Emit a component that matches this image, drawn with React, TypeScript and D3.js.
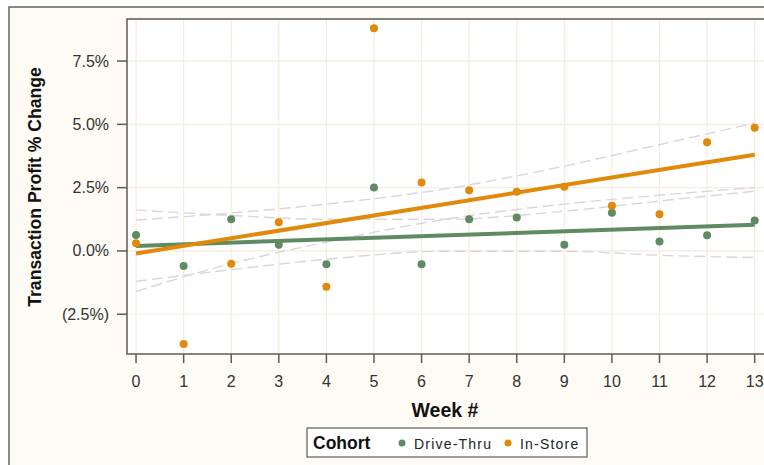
import React, { useEffect, useRef } from 'react';
import * as d3 from 'd3';

const weeks = [0, 1, 2, 3, 4, 5, 6, 7, 8, 9, 10, 11, 12, 13];
const driveThru = [0.63, -0.59, 1.25, 0.24, -0.53, 2.51, -0.53, 1.25, 1.32, 0.24, 1.51, 0.37, 0.62, 1.2];
const inStore = [0.3, -3.68, -0.51, 1.13, -1.41, 8.79, 2.7, 2.4, 2.34, 2.54, 1.78, 1.45, 4.29, 4.87];

const fitWeeks = [0, 13];
const driveThruFit = [0.2, 1.03];
const inStoreFit = [-0.1, 3.8];

const bandWeeks = [0, 2, 4, 6.5, 9, 11, 13];
const driveThruUpper = [1.62, 1.4, 1.25, 1.25, 1.57, 1.97, 2.36];
const driveThruLower = [-1.2, -0.74, -0.33, -0.01, -0.01, -0.17, -0.26];
const inStoreUpper = [1.22, 1.5, 1.85, 2.45, 3.35, 4.2, 5.05];
const inStoreLower = [-1.6, -0.5, 0.35, 1.25, 1.85, 2.2, 2.5];

const yTicks = [-2.5, 0, 2.5, 5, 7.5];
const cohorts = ['Drive-Thru', 'In-Store'];
const colors = ['#5f8b63', '#e0890a'];

const fmt = (v: number) => (v < 0 ? `(${Math.abs(v).toFixed(1)}%)` : `${v.toFixed(1)}%`);

function App() {
  const ref = useRef<SVGSVGElement>(null);

  useEffect(() => {
    const svg = d3.select(ref.current);
    svg.selectAll('*').remove();

    const left = 127, right = 768, top = 19, bottom = 354;
    const x = d3.scaleLinear().domain([-0.19, 13.28]).range([left, right]);
    const y = d3.scaleLinear().domain([-4.07, 9.16]).range([bottom, top]);
    const font = 'Liberation Sans, Arial, sans-serif';

    // background
    svg.append('rect').attr('x', 0).attr('y', 0).attr('width', 764).attr('height', 465).attr('fill', '#ffffff');
    svg.append('rect').attr('x', 9).attr('y', 7).attr('width', 800).attr('height', 500)
      .attr('fill', '#fdfbf4').attr('stroke', '#6a645e').attr('stroke-width', 1.5);
    svg.append('rect').attr('x', left).attr('y', top).attr('width', right - left).attr('height', bottom - top)
      .attr('fill', '#ffffff');

    // grid
    const grid = svg.append('g').attr('stroke', '#f4ecdc').attr('stroke-width', 1.2);
    grid.selectAll('.vg').data(weeks).enter().append('line')
      .attr('x1', d => x(d)).attr('x2', d => x(d)).attr('y1', top).attr('y2', bottom);
    grid.selectAll('.hg').data(yTicks).enter().append('line')
      .attr('x1', left).attr('x2', right).attr('y1', d => y(d)).attr('y2', d => y(d));

    // confidence bands
    const bandLine = d3.line<number>()
      .x((_, i) => x(bandWeeks[i]))
      .y(d => y(d))
      .curve(d3.curveMonotoneX);
    [driveThruUpper, driveThruLower, inStoreUpper, inStoreLower].forEach(b => {
      svg.append('path').attr('d', bandLine(b))
        .attr('fill', 'none').attr('stroke', '#dcd3df').attr('stroke-width', 1.4)
        .attr('stroke-dasharray', '11,5');
    });

    // fit lines
    const fitLine = d3.line<number>().x((_, i) => x(fitWeeks[i])).y(d => y(d));
    [driveThruFit, inStoreFit].forEach((f, i) => {
      svg.append('path').attr('d', fitLine(f))
        .attr('fill', 'none').attr('stroke', colors[i]).attr('stroke-width', 4);
    });

    // points
    [driveThru, inStore].forEach((s, i) => {
      svg.append('g').selectAll('circle').data(s).enter().append('circle')
        .attr('cx', (_, j) => x(weeks[j])).attr('cy', d => y(d)).attr('r', 4)
        .attr('fill', colors[i]);
    });

    // frame
    svg.append('rect').attr('x', left).attr('y', top).attr('width', right - left).attr('height', bottom - top)
      .attr('fill', 'none').attr('stroke', '#5f5a55').attr('stroke-width', 1.5);

    // y axis
    const ya = svg.append('g');
    ya.selectAll('line').data(yTicks).enter().append('line')
      .attr('x1', left - 10).attr('x2', left).attr('y1', d => y(d)).attr('y2', d => y(d))
      .attr('stroke', '#5f5a55').attr('stroke-width', 1.5);
    ya.selectAll('text').data(yTicks).enter().append('text')
      .attr('x', left - 18).attr('y', d => y(d) + 5.5).attr('text-anchor', 'end')
      .attr('font-family', font).attr('font-size', 16).attr('fill', '#333')
      .text(d => fmt(d));

    // x axis
    const xa = svg.append('g');
    xa.selectAll('line').data(weeks).enter().append('line')
      .attr('x1', d => x(d)).attr('x2', d => x(d)).attr('y1', bottom).attr('y2', bottom + 9)
      .attr('stroke', '#5f5a55').attr('stroke-width', 1.5);
    xa.selectAll('text').data(weeks).enter().append('text')
      .attr('x', d => x(d)).attr('y', 387).attr('text-anchor', 'middle')
      .attr('font-family', font).attr('font-size', 16).attr('fill', '#333')
      .text(d => d);

    // titles
    svg.append('text').attr('transform', 'translate(41,187) rotate(-90)')
      .attr('text-anchor', 'middle').attr('font-family', font).attr('font-weight', 'bold')
      .attr('font-size', 17.6).attr('fill', '#111').text('Transaction Profit % Change');
    svg.append('text').attr('x', 445).attr('y', 417).attr('text-anchor', 'middle')
      .attr('font-family', font).attr('font-weight', 'bold').attr('font-size', 19.5)
      .attr('fill', '#111').text('Week #');

    // legend
    const lg = svg.append('g');
    lg.append('rect').attr('x', 307).attr('y', 428).attr('width', 280).attr('height', 29)
      .attr('fill', '#ffffff').attr('stroke', '#5f5a55').attr('stroke-width', 1.2);
    lg.append('text').attr('x', 313).attr('y', 449).attr('font-family', font)
      .attr('font-weight', 'bold').attr('font-size', 17.5).attr('fill', '#111').text('Cohort');
    const lx = [402, 508];
    cohorts.forEach((c, i) => {
      lg.append('circle').attr('cx', lx[i]).attr('cy', 443).attr('r', 3.5).attr('fill', colors[i]);
      lg.append('text').attr('x', lx[i] + 12).attr('y', 448.5).attr('font-family', font)
        .attr('font-size', 14).attr('letter-spacing', 1.2).attr('fill', '#222').text(c);
    });
  }, []);

  return <svg ref={ref} width={764} height={465} style={{ position: 'absolute', left: 0, top: 0 }} />;
}

export default App;
